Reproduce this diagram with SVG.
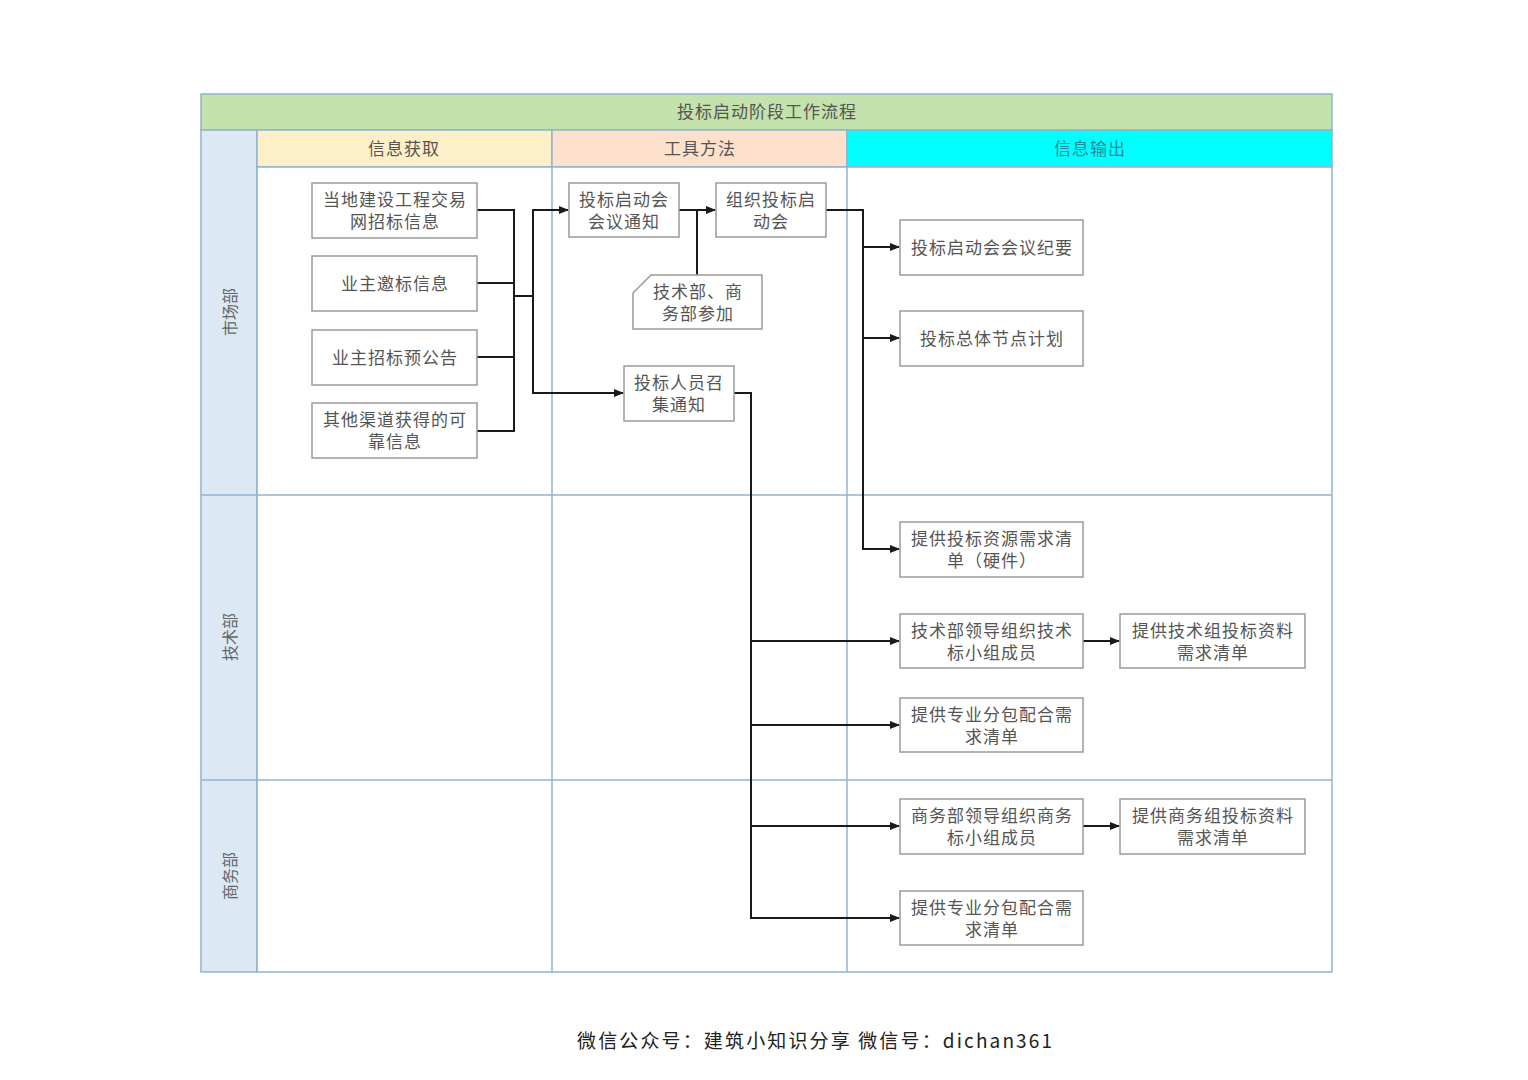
<svg xmlns="http://www.w3.org/2000/svg" width="1528" height="1080" viewBox="0 0 1528 1080">
<style>
.t{font-family:"Noto Sans CJK SC","Liberation Sans",sans-serif;font-size:17px;fill:#555;text-anchor:middle;dominant-baseline:central;letter-spacing:1px}
.box{fill:#fff;stroke:#9a9a9a;stroke-width:1.5}
.grid{fill:none;stroke:#8fb4d0;stroke-width:1.5}
.c{fill:none;stroke:#1a1a1a;stroke-width:2}
.lane{font-family:"Noto Sans CJK SC","Liberation Sans",sans-serif;font-size:16px;fill:#666;text-anchor:middle;dominant-baseline:central}
</style>
<defs>
<marker id="ah" markerWidth="10" markerHeight="8" refX="9" refY="4" orient="auto" markerUnits="userSpaceOnUse">
<path d="M0,0 L10,4 L0,8 Z" fill="#1a1a1a"/>
</marker>
</defs>
<rect width="1528" height="1080" fill="#fff"/>
<g id="frame" transform="translate(0,0)">
<rect x="201" y="94" width="1131" height="36" class="grid" style="fill:#c3e2ac"/>
<text class="t" x="767" y="110">投标启动阶段工作流程</text>
<rect x="201" y="130" width="56" height="842" class="grid" style="fill:#dce9f4"/>
<rect x="257" y="130" width="295" height="37" class="grid" style="fill:#fdf0c8"/>
<rect x="552" y="130" width="295" height="37" class="grid" style="fill:#fde1cc"/>
<rect x="847" y="130" width="485" height="37" class="grid" style="fill:#00ffff"/>
<text class="t" x="404" y="147">信息获取</text>
<text class="t" x="700" y="147">工具方法</text>
<text class="t" x="1090" y="147" style="fill:#2a8a9a">信息输出</text>
<rect x="257" y="167" width="1075" height="805" class="grid" style="fill:#fff"/>
<line x1="552" y1="167" x2="552" y2="972" class="grid"/>
<line x1="847" y1="167" x2="847" y2="972" class="grid"/>
<line x1="201" y1="495" x2="1332" y2="495" class="grid"/>
<line x1="201" y1="780" x2="1332" y2="780" class="grid"/>
<text class="lane" transform="translate(229,312) rotate(-90)">市场部</text>
<text class="lane" transform="translate(229,637) rotate(-90)">技术部</text>
<text class="lane" transform="translate(229,876) rotate(-90)">商务部</text>
</g>
<g id="connectors">
<polyline class="c" points="477,210 514,210 514,431 477,431"/>
<line class="c" x1="477" y1="283" x2="514" y2="283"/>
<line class="c" x1="477" y1="357" x2="514" y2="357"/>
<line class="c" x1="514" y1="296" x2="533" y2="296"/>
<polyline class="c" points="533,296 533,210 568,210" marker-end="url(#ah)"/>
<polyline class="c" points="533,296 533,393 623,393" marker-end="url(#ah)"/>
<line class="c" x1="679" y1="210" x2="715" y2="210" marker-end="url(#ah)"/>
<line class="c" x1="697" y1="210" x2="697" y2="275"/>
<polyline class="c" points="826,210 863,210 863,549 899,549" marker-end="url(#ah)"/>
<line class="c" x1="863" y1="247" x2="899" y2="247" marker-end="url(#ah)"/>
<line class="c" x1="863" y1="338" x2="899" y2="338" marker-end="url(#ah)"/>
<polyline class="c" points="734,393 751,393 751,918 899,918" marker-end="url(#ah)"/>
<line class="c" x1="751" y1="641" x2="899" y2="641" marker-end="url(#ah)"/>
<line class="c" x1="751" y1="725" x2="899" y2="725" marker-end="url(#ah)"/>
<line class="c" x1="751" y1="826" x2="899" y2="826" marker-end="url(#ah)"/>
<line class="c" x1="1083" y1="641" x2="1119" y2="641" marker-end="url(#ah)"/>
<line class="c" x1="1083" y1="826" x2="1119" y2="826" marker-end="url(#ah)"/>
</g>
<g id="nA"><rect class="box" x="312" y="183" width="165" height="55"/><text class="t" x="395" y="198">当地建设工程交易</text><text class="t" x="395" y="220">网招标信息</text></g>
<g id="nB"><rect class="box" x="312" y="256" width="165" height="55"/><text class="t" x="395" y="282">业主邀标信息</text></g>
<g id="nC"><rect class="box" x="312" y="330" width="165" height="55"/><text class="t" x="395" y="356">业主招标预公告</text></g>
<g id="nD"><rect class="box" x="312" y="403" width="165" height="55"/><text class="t" x="395" y="418">其他渠道获得的可</text><text class="t" x="395" y="440">靠信息</text></g>
<g id="nE"><rect class="box" x="569" y="183" width="110" height="54"/><text class="t" x="624" y="198">投标启动会</text><text class="t" x="624" y="220">会议通知</text></g>
<g id="nG"><rect class="box" x="716" y="183" width="110" height="54"/><text class="t" x="771" y="198">组织投标启</text><text class="t" x="771" y="220">动会</text></g>
<g id="note"><path class="box" d="M651,275 L762,275 L762,329 L633,329 L633,293 Z"/><text class="t" x="698" y="290">技术部、商</text><text class="t" x="698" y="312">务部参加</text></g>
<g id="nF"><rect class="box" x="624" y="366" width="110" height="55"/><text class="t" x="679" y="381">投标人员召</text><text class="t" x="679" y="403">集通知</text></g>
<g id="nH"><rect class="box" x="900" y="220" width="183" height="55"/><text class="t" x="992" y="246">投标启动会会议纪要</text></g>
<g id="nI"><rect class="box" x="900" y="311" width="183" height="55"/><text class="t" x="992" y="337">投标总体节点计划</text></g>
<g id="nJ"><rect class="box" x="900" y="522" width="183" height="55"/><text class="t" x="992" y="537">提供投标资源需求清</text><text class="t" x="992" y="559">单（硬件）</text></g>
<g id="nK"><rect class="box" x="900" y="614" width="183" height="54"/><text class="t" x="992" y="629">技术部领导组织技术</text><text class="t" x="992" y="651">标小组成员</text></g>
<g id="nP"><rect class="box" x="1120" y="614" width="185" height="54"/><text class="t" x="1213" y="629">提供技术组投标资料</text><text class="t" x="1213" y="651">需求清单</text></g>
<g id="nL"><rect class="box" x="900" y="698" width="183" height="54"/><text class="t" x="992" y="713">提供专业分包配合需</text><text class="t" x="992" y="735">求清单</text></g>
<g id="nM"><rect class="box" x="900" y="799" width="183" height="55"/><text class="t" x="992" y="814">商务部领导组织商务</text><text class="t" x="992" y="836">标小组成员</text></g>
<g id="nQ"><rect class="box" x="1120" y="799" width="185" height="55"/><text class="t" x="1213" y="814">提供商务组投标资料</text><text class="t" x="1213" y="836">需求清单</text></g>
<g id="nN"><rect class="box" x="900" y="891" width="183" height="54"/><text class="t" x="992" y="906">提供专业分包配合需</text><text class="t" x="992" y="928">求清单</text></g>
<text x="577" y="1039" textLength="475" lengthAdjust="spacing" style="font-family:'Noto Sans CJK SC','Liberation Mono',monospace;font-size:19px;fill:#222;dominant-baseline:central">微信公众号：建筑小知识分享 微信号：dichan361</text>
</svg>
